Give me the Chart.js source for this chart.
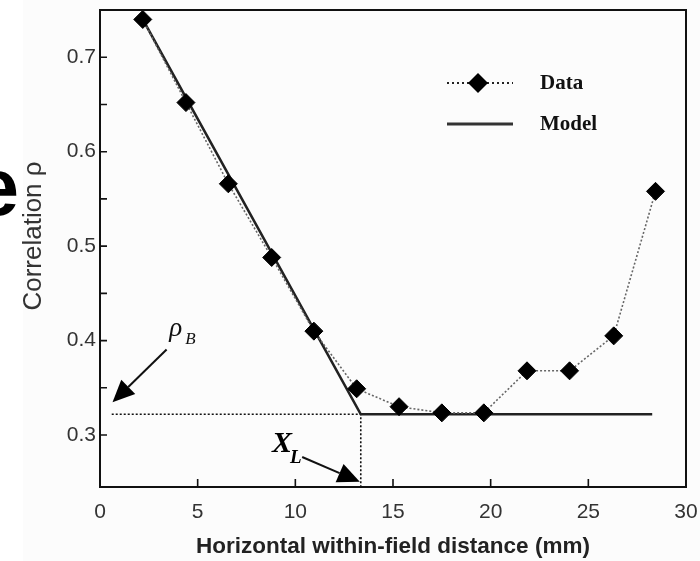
<!DOCTYPE html>
<html>
<head>
<meta charset="utf-8">
<script src="https://cdn.jsdelivr.net/npm/chart.js@4.4.1/dist/chart.umd.min.js"></script>
<style>
  html, body { margin: 0; padding: 0; background: #fff; }
  canvas { display: block; }
</style>
</head>
<body>
<canvas id="chart" width="700" height="561"></canvas>
<script>
// ============ Data ============
const distMM  = [2.19, 4.40, 6.57, 8.79, 10.95, 13.14, 15.31, 17.50, 19.65, 21.86, 24.04, 26.30, 28.44];
const corrRho = [0.740, 0.652, 0.566, 0.488, 0.410, 0.349, 0.330, 0.3235, 0.3235, 0.368, 0.368, 0.405, 0.558];
const modelX  = [2.19, 13.35, 28.27];
const modelY  = [0.740, 0.322, 0.322];
const refX    = [0.6, 13.35, 13.35];     // rho_B level + X_L drop
const refY    = [0.322, 0.322, 0.245];
const xTicks  = [0, 5, 10, 15, 20, 25, 30];
const yTicks  = [0.3, 0.4, 0.5, 0.6, 0.7];
const yMinor  = [0.35, 0.45, 0.55, 0.65];

const X_MIN = 0, X_MAX = 30, Y_MIN = 0.245, Y_MAX = 0.75;

// annotation anchors, in data units
const ANNO = {
  rhoArrow: [3.41, 0.3905, 0.64, 0.3347],
  rhoText:  [3.55, 0.405],
  xlArrow:  [10.35, 0.2768, 13.3, 0.2505],
  xlText:   [8.8, 0.282]
};

const SANS = "'Liberation Sans', Arial, sans-serif";
const SERIF = "'Liberation Serif', 'Times New Roman', serif";

const pts = (xs, ys) => xs.map((x, i) => ({ x, y: ys[i] }));

// ============ Helpers ============
function arrow(ctx, x1, y1, x2, y2, len, half){
  const a = Math.atan2(y2 - y1, x2 - x1);
  const bx = x2 - len * Math.cos(a), by = y2 - len * Math.sin(a);
  ctx.beginPath();
  ctx.moveTo(x1, y1); ctx.lineTo(bx, by);
  ctx.lineWidth = 2; ctx.strokeStyle = "#111"; ctx.stroke();
  ctx.beginPath();
  ctx.moveTo(x2, y2);
  ctx.lineTo(bx + half * Math.sin(a), by - half * Math.cos(a));
  ctx.lineTo(bx - half * Math.sin(a), by + half * Math.cos(a));
  ctx.closePath();
  ctx.fillStyle = "#000"; ctx.fill();
}

function noPad(s){ s.paddingLeft = 0; s.paddingRight = 0; s.paddingTop = 0; s.paddingBottom = 0; }

// ============ Plugin: frame, ticks, annotations, legend ============
const decor = {
  id: "decor",
  beforeDraw(chart){
    const ctx = chart.ctx;
    ctx.save();
    ctx.fillStyle = "#fcfcfc";
    ctx.fillRect(23, 0, chart.width - 23, chart.height);
    ctx.restore();
  },
  afterDraw(chart){
    const ctx = chart.ctx, a = chart.chartArea;
    const sx = chart.scales.x, sy = chart.scales.y;
    const px = v => sx.getPixelForValue(v), py = v => sy.getPixelForValue(v);
    ctx.save();

    // frame
    ctx.strokeStyle = "#111"; ctx.lineWidth = 2;
    ctx.strokeRect(a.left, a.top, a.right - a.left, a.bottom - a.top);

    // inward ticks
    ctx.lineWidth = 1.6;
    ctx.beginPath();
    xTicks.forEach(v => { if (v > X_MIN && v < X_MAX){ ctx.moveTo(px(v), a.bottom); ctx.lineTo(px(v), a.bottom - 8); } });
    yTicks.concat(yMinor).forEach(v => { ctx.moveTo(a.left, py(v)); ctx.lineTo(a.left + 7, py(v)); });
    ctx.stroke();

    // y title
    ctx.save();
    ctx.translate(34, 236);
    ctx.rotate(-Math.PI / 2);
    ctx.font = `26px ${SANS}`;
    ctx.fillStyle = "#333";
    ctx.textAlign = "center"; ctx.textBaseline = "middle";
    ctx.fillText("Correlation ρ", 0, 0);
    ctx.restore();

    // stray glyph at left edge
    ctx.font = `bold 82px ${SANS}`;
    ctx.fillStyle = "#000";
    ctx.textAlign = "right"; ctx.textBaseline = "alphabetic";
    ctx.fillText("e", 19, 215);

    // rho_B annotation
    const r = ANNO.rhoArrow;
    arrow(ctx, px(r[0]), py(r[1]), px(r[2]), py(r[3]), 22, 10);
    ctx.fillStyle = "#111"; ctx.textAlign = "left";
    ctx.font = `italic 27px ${SERIF}`;
    const rx = px(ANNO.rhoText[0]), ry = py(ANNO.rhoText[1]);
    ctx.fillText("ρ", rx, ry);
    ctx.font = `italic 17px ${SERIF}`;
    ctx.fillText("B", rx + 16, ry + 8);

    // X_L annotation
    const q = ANNO.xlArrow;
    arrow(ctx, px(q[0]), py(q[1]), px(q[2]), py(q[3]), 22, 10);
    const lx = px(ANNO.xlText[0]), ly = py(ANNO.xlText[1]);
    ctx.font = `italic bold 30px ${SERIF}`;
    ctx.fillText("X", lx, ly);
    ctx.font = `italic bold 19px ${SERIF}`;
    ctx.fillText("L", lx + 18, ly + 11);

    // legend
    const lgX = a.left + 347, lgW = 66, txtX = a.left + 440;
    const dy = a.top + 73, my = a.top + 114;
    const ds = chart.data.datasets;
    ctx.beginPath();
    ctx.setLineDash([2, 3]); ctx.lineWidth = 2; ctx.strokeStyle = "#222";
    ctx.moveTo(lgX, dy); ctx.lineTo(lgX + lgW, dy); ctx.stroke();
    ctx.setLineDash([]);
    ctx.beginPath();
    const cx = lgX + 31, rr = 10;
    ctx.moveTo(cx, dy - rr); ctx.lineTo(cx + rr, dy); ctx.lineTo(cx, dy + rr); ctx.lineTo(cx - rr, dy); ctx.closePath();
    ctx.fillStyle = "#000"; ctx.fill();
    ctx.beginPath();
    ctx.lineWidth = 3; ctx.strokeStyle = "#333";
    ctx.moveTo(lgX, my); ctx.lineTo(lgX + lgW, my); ctx.stroke();
    ctx.font = `bold 21px ${SERIF}`;
    ctx.fillStyle = "#111"; ctx.textBaseline = "middle";
    ctx.fillText(ds[0].label, txtX, dy + 1);
    ctx.fillText(ds[1].label, txtX, my + 1);

    ctx.restore();
  }
};

// ============ Chart ============
new Chart(document.getElementById("chart"), {
  type: "line",
  data: {
    datasets: [
      {
        label: "Data",
        data: pts(distMM, corrRho),
        borderColor: "#666",
        borderWidth: 1.6,
        borderDash: [2, 2],
        tension: 0,
        pointStyle: "rectRot",
        pointRadius: 9,
        pointBackgroundColor: "#000",
        pointBorderColor: "#000",
        pointBorderWidth: 1
      },
      {
        label: "Model",
        data: pts(modelX, modelY),
        borderColor: "#222",
        borderWidth: 2.6,
        tension: 0,
        pointRadius: 0
      },
      {
        label: "ref",
        data: pts(refX, refY),
        borderColor: "#111",
        borderWidth: 1.6,
        borderDash: [2, 2],
        tension: 0,
        pointRadius: 0
      }
    ]
  },
  options: {
    responsive: false,
    animation: false,
    layout: { padding: { left: 0, top: 7, right: 14, bottom: 0 } },
    plugins: { legend: { display: false }, tooltip: { enabled: false } },
    scales: {
      x: {
        type: "linear",
        min: X_MIN, max: X_MAX,
        grid: { display: false, drawTicks: false },
        border: { display: false },
        afterBuildTicks: s => { s.ticks = xTicks.map(v => ({ value: v })); },
        afterFit: s => { s.height = 74; noPad(s); },
        ticks: { color: "#333", font: { family: SANS, size: 21 }, padding: 13, maxRotation: 0 },
        title: {
          display: true,
          text: "Horizontal within-field distance (mm)",
          color: "#222",
          font: { family: SANS, size: 22.5, weight: "bold" },
          padding: { top: 0, bottom: 1 }
        }
      },
      y: {
        type: "linear",
        min: Y_MIN, max: Y_MAX,
        grid: { display: false, drawTicks: false },
        border: { display: false },
        afterBuildTicks: s => { s.ticks = yTicks.map(v => ({ value: v })); },
        afterFit: s => { s.width = 100; noPad(s); },
        ticks: { color: "#333", font: { family: SANS, size: 21 }, padding: 4, callback: v => v.toFixed(1) }
      }
    }
  },
  plugins: [decor]
});
</script>
</body>
</html>
